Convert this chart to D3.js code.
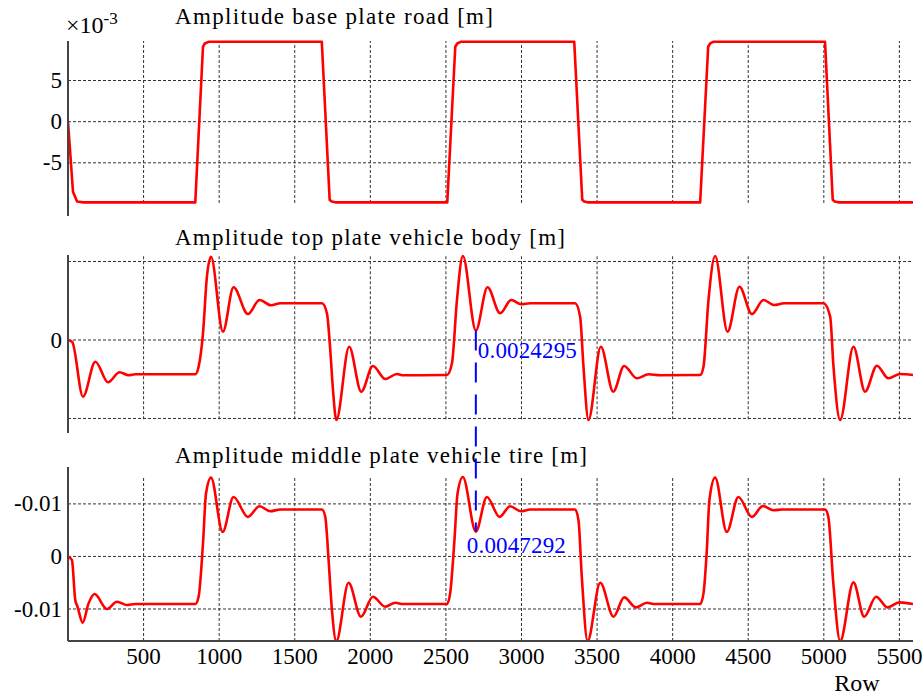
<!DOCTYPE html>
<html>
<head>
<meta charset="utf-8">
<script src="https://cdn.jsdelivr.net/npm/d3@7"></script>
<style>
  body { margin: 0; background: #fff; }
  text { font-family: "Liberation Serif", "Times New Roman", serif; fill: #000; }
  .grid line { stroke: #333; stroke-width: 1; stroke-dasharray: 3,2; }
  .axisline { stroke: #444; stroke-width: 2; }
  .line { fill: none; stroke: #ff0000; stroke-width: 2.6; stroke-linejoin: round; }
</style>
</head>
<body>
<script>
// ---- data ----
var xTicks = [500, 1000, 1500, 2000, 2500, 3000, 3500, 4000, 4500, 5000, 5500];

var roadRows = [0, 33, 60, 103, 842, 893, 905, 930, 1679, 1731, 1745, 1768,
  2509, 2562, 2575, 2598, 3349, 3402, 3415, 3438, 4182, 4235, 4248, 4268,
  5008, 5059, 5072, 5097, 5590];
var roadVals = [0, -0.0085, -0.0097, -0.0098, -0.0098, 0.0091, 0.0095, 0.0097, 0.0097, -0.0095, -0.0097, -0.0098,
  -0.0098, 0.0091, 0.0095, 0.0097, 0.0097, -0.0095, -0.0097, -0.0098, -0.0098, 0.0091, 0.0095, 0.0097,
  0.0097, -0.0095, -0.0097, -0.0098, -0.0098];

var bodyRows = [0, 28, 99, 181, 265, 341, 401, 445, 842, 864, 893, 919, 946, 1025, 1095, 1190, 1267, 1343, 1404,
  1680, 1713, 1735, 1753, 1775, 1860, 1940, 2017, 2099, 2176, 2220, 2507, 2540, 2573, 2612, 2698, 2775, 2859,
  2932, 2998, 3058, 3355, 3388, 3410, 3443, 3525, 3607, 3679, 3763, 3840, 3917, 4182, 4204, 4237, 4281, 4363,
  4442, 4524, 4601, 4671, 4737, 4998, 5042, 5064, 5108, 5196, 5273, 5351, 5427, 5505, 5590];
var bodyVals = [0, -0.0005, -0.01444, -0.00553, -0.01078, -0.00823, -0.00899, -0.00874, -0.00874, -0.00681,
  0.00171, 0.01613, 0.02122, 0.00211, 0.01343, 0.00662, 0.01019, 0.00884, 0.00935,
  0.00935, 0.0068, -0.00255, -0.01274, -0.02038, -0.00171, -0.01317, -0.00662, -0.00994, -0.00866, -0.009,
  -0.00892, -0.00594, 0.01019, 0.0214, 0.0024295, 0.01343, 0.0068, 0.01019, 0.0091, 0.00935,
  0.00935, 0.00594, -0.0068, -0.02038, -0.00171, -0.01317, -0.00662, -0.00976, -0.00874, -0.009,
  -0.00892, -0.0068, 0.01019, 0.0214, 0.00211, 0.01358, 0.00662, 0.01019, 0.00892, 0.00935,
  0.00935, 0.00594, -0.0068, -0.02038, -0.00171, -0.01317, -0.00655, -0.00976, -0.00866, -0.00892];

var tireRows = [0, 26, 48, 63, 97, 136, 176, 258, 324, 390, 445, 842, 864, 893, 913, 946, 1023, 1095, 1190, 1267,
  1338, 1404, 1680, 1702, 1724, 1746, 1775, 1856, 1938, 2017, 2099, 2165, 2218, 2507, 2528, 2555, 2577, 2612,
  2698, 2771, 2855, 2925, 2996, 3058, 3355, 3377, 3399, 3437, 3521, 3609, 3679, 3757, 3829, 3884, 4182, 4204,
  4226, 4243, 4281, 4358, 4435, 4524, 4597, 4667, 4724, 5008, 5030, 5063, 5108, 5196, 5267, 5346, 5421, 5500, 5590];
var tireVals = [0, -0.0007, -0.0083, -0.00957, -0.01261, -0.00893, -0.00716, -0.01001, -0.00862, -0.00925,
  -0.00906, -0.00906, -0.00767, 0.00247, 0.01197, 0.015, 0.00467, 0.01132, 0.00752, 0.00955,
  0.0086, 0.00893, 0.00893, 0.00752, -0.0007, -0.0102, -0.0161, -0.00501, -0.01147, -0.00767, -0.00957, -0.00881,
  -0.00906, -0.00906, -0.00703, 0.00247, 0.01197, 0.01512, 0.0047292, 0.01132, 0.00752, 0.00955, 0.0086, 0.00893,
  0.00893, 0.00689, -0.00387, -0.0161, -0.00501, -0.01147, -0.00779, -0.00969, -0.00881, -0.00906, -0.00906, -0.00703,
  0.0012, 0.01069, 0.015, 0.00467, 0.01132, 0.00752, 0.00961, 0.00879, 0.00893, 0.00893, 0.00752, -0.00513,
  -0.0161, -0.00494, -0.01147, -0.00767, -0.00969, -0.00874, -0.00906];

var annotRow = 2698;
var annotBody = 0.0024295, annotTire = 0.0047292;

// ---- layout ----
var width = 924, height = 697;
var left = 68, right = 913;

var svg = d3.select("body").append("svg")
    .attr("width", width)
    .attr("height", height);

var xScale = d3.scaleLinear().domain([0, 5590]).range([left, right]);

function zip(rows, vals){
    return rows.map(function(r, i){ return {row: r, v: vals[i]}; });
}

function add_panel(opt){
    var yScale = d3.scaleLinear().domain(opt.domain).range([opt.bottom, opt.top]);
    var g = svg.append("g");

    // vertical grid
    g.append("g").attr("class", "grid")
      .selectAll("line").data(xTicks).enter().append("line")
        .attr("x1", function(d){ return xScale(d); })
        .attr("x2", function(d){ return xScale(d); })
        .attr("y1", yScale(opt.vgrid[0]))
        .attr("y2", yScale(opt.vgrid[1]));

    // horizontal grid
    g.append("g").attr("class", "grid")
      .selectAll("line").data(opt.hgrid).enter().append("line")
        .attr("x1", left).attr("x2", right)
        .attr("y1", function(d){ return yScale(d); })
        .attr("y2", function(d){ return yScale(d); });

    // y tick labels
    g.selectAll("ylab").data(opt.ylabels).enter().append("text")
        .attr("x", left - 6)
        .attr("y", function(d){ return yScale(d.v); })
        .attr("dy", "0.33em")
        .attr("font-size", "23px")
        .style("text-anchor", "end")
        .text(function(d){ return d.t; });

    var clipId = "clip" + opt.id;
    svg.append("clipPath").attr("id", clipId).append("rect")
        .attr("x", left).attr("y", opt.top - 2)
        .attr("width", right - left).attr("height", opt.bottom - opt.top + 2);

    var line = d3.line()
        .x(function(d){ return xScale(d.row); })
        .y(function(d){ return yScale(d.v); })
        .curve(opt.curve);

    g.append("path")
        .datum(zip(opt.rows, opt.vals))
        .attr("class", "line")
        .attr("clip-path", "url(#" + clipId + ")")
        .attr("d", line);

    // left axis line
    g.append("line").attr("class", "axisline")
        .attr("x1", left).attr("x2", left)
        .attr("y1", opt.top).attr("y2", opt.bottom);

    g.append("text")
        .attr("x", 175)
        .attr("y", opt.titleY)
        .attr("font-size", "23px")
        .attr("textLength", opt.titleW)
        .attr("lengthAdjust", "spacing")
        .text(opt.title);

    return yScale;
}

var y1 = add_panel({
    id: 1, top: 41, bottom: 216, domain: [-0.01146, 0.0098],
    vgrid: [-0.00988, 0.0098], hgrid: [0.005, 0, -0.005],
    ylabels: [{v: 0.005, t: "5"}, {v: 0, t: "0"}, {v: -0.005, t: "-5"}],
    rows: roadRows, vals: roadVals, curve: d3.curveLinear,
    title: "Amplitude base plate road [m]", titleY: 24, titleW: 318
});

var y2 = add_panel({
    id: 2, top: 255, bottom: 433, domain: [-0.0237, 0.02166],
    vgrid: [-0.0202, 0.02166], hgrid: [0.02, 0, -0.02],
    ylabels: [{v: 0, t: "0"}],
    rows: bodyRows, vals: bodyVals, curve: d3.curveMonotoneX,
    title: "Amplitude top plate vehicle body [m]", titleY: 245, titleW: 390
});

var y3 = add_panel({
    id: 3, top: 467, bottom: 641, domain: [-0.01609, 0.01702],
    vgrid: [-0.01609, 0.0151], hgrid: [0.01, 0, -0.01],
    ylabels: [{v: 0.01, t: "-0.01"}, {v: 0, t: "0"}, {v: -0.01, t: "-0.01"}],
    rows: tireRows, vals: tireVals, curve: d3.curveMonotoneX,
    title: "Amplitude middle plate vehicle tire [m]", titleY: 463, titleW: 412
});

// x axis of the bottom panel
svg.append("line").attr("class", "axisline")
    .attr("x1", left).attr("x2", right)
    .attr("y1", 641).attr("y2", 641);

svg.selectAll("xlab").data(xTicks).enter().append("text")
    .attr("x", function(d){ return xScale(d); })
    .attr("y", 664)
    .attr("font-size", "23px")
    .style("text-anchor", "middle")
    .text(function(d){ return d; });

svg.append("text")
    .attr("x", 857).attr("y", 691)
    .attr("font-size", "24px")
    .style("text-anchor", "middle")
    .text("Row");

// exponent label
var ex = svg.append("text")
    .attr("x", 66).attr("y", 33)
    .attr("font-size", "24px");
ex.append("tspan").text("\u00d710");
ex.append("tspan").attr("font-size", "17px").attr("dy", "-9").text("-3");

// data tips
svg.append("line")
    .attr("x1", xScale(annotRow)).attr("x2", xScale(annotRow))
    .attr("y1", y2(annotBody)).attr("y2", y3(annotTire))
    .attr("stroke", "#0000ff").attr("stroke-width", 2)
    .attr("stroke-dasharray", "20,12");

svg.append("text")
    .attr("x", xScale(annotRow) + 2).attr("y", y2(annotBody) + 28)
    .attr("font-size", "23px")
    .attr("textLength", 99)
    .style("fill", "#0000ff")
    .text(annotBody.toString());

svg.append("text")
    .attr("x", xScale(annotRow) - 9).attr("y", y3(annotTire) + 21)
    .attr("font-size", "23px")
    .attr("textLength", 99)
    .style("fill", "#0000ff")
    .text(annotTire.toString());
</script>
</body>
</html>
